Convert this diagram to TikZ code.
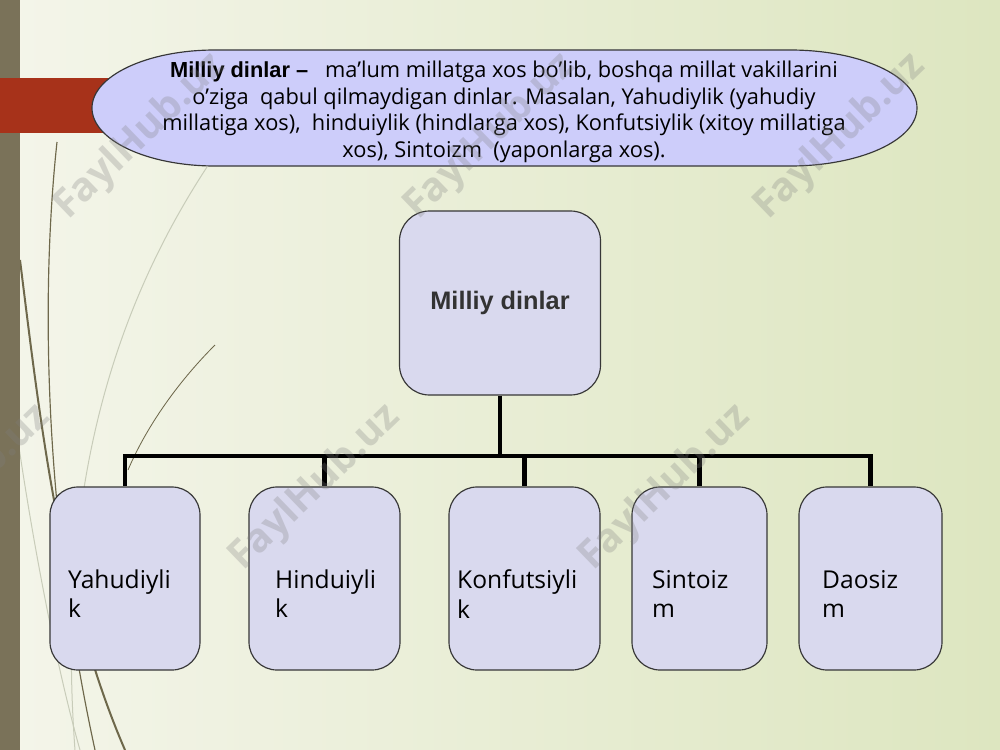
\documentclass[tikz,border=0pt]{standalone}
\usepackage{fontspec}
\setmainfont{Open Sans}
\newfontfamily\arialfont{Liberation Sans}
\definecolor{bgleft}{RGB}{244,245,234}
\definecolor{bgright}{RGB}{221,230,192}
\definecolor{stripbrown}{RGB}{122,114,89}
\definecolor{barred}{RGB}{167,50,26}
\definecolor{ovalfill}{RGB}{205,205,250}
\definecolor{boxfill}{RGB}{217,217,238}
\definecolor{rimgray}{RGB}{55,55,55}
\definecolor{stemolive}{RGB}{110,104,75}
\definecolor{stemlight}{RGB}{200,204,185}
\begin{document}
\begin{tikzpicture}[x=0.3mm, y=-0.3mm,
  oval/.style={draw=rimgray, line width=0.35mm, fill=ovalfill},
  ovaltext/.style={align=center, inner sep=0pt, font=\fontsize{18.6}{22.6}\selectfont},
  rootbox/.style={rectangle, rounded corners=9mm, draw=rimgray, line width=0.35mm, fill=boxfill,
    minimum width=60.3mm, minimum height=55.2mm, text=black!80,
    font=\arialfont\bfseries\fontsize{21.6}{24}\selectfont},
  leafbox/.style={rectangle, rounded corners=8.4mm, draw=rimgray, line width=0.35mm, fill=boxfill,
    minimum height=54.9mm},
  leaftext/.style={anchor=west, align=left, inner sep=0pt, font=\fontsize{21}{25}\selectfont},
  bus/.style={line width=1.3mm, black},
  stem/.style={stemolive, line width=0.35mm},
  wmark/.style={text=gray, opacity=0.28, rotate=44, font=\bfseries\fontsize{34}{34}\selectfont}]
  \clip (0,0) rectangle (1000,750);
  % background, side strip, curves
  \shade[left color=bgleft, right color=bgright] (0,0) rectangle (1000,750);
  \draw[stemlight, line width=0.3mm] (207,167) .. controls (120,300) and (55,480) .. (75,750);
  \draw[stemlight, line width=0.3mm] (15,420) .. controls (35,560) and (60,680) .. (80,750);
  \draw[stem] (57,142) .. controls (40,300) and (45,520) .. (95,750);
  \draw[stem, line width=0.6mm] (20,260) .. controls (40,420) and (60,600) .. (125,750);
  \draw[stem, line width=0.25mm] (215,345) .. controls (175,385) and (145,430) .. (128,470);
  \fill[stripbrown] (0,0) rectangle (20,750);
  \fill[barred] (0,78) rectangle (120,133);

  % definition bubble
  \draw[oval] (215,50) -- (790,50) arc[start angle=-90, end angle=90, x radius=127, y radius=58]
    -- (215,166) arc[start angle=90, end angle=270, x radius=123, y radius=58] -- cycle;
  \node[ovaltext] (defT) at (504,112) {{\arialfont\bfseries Milliy dinlar –}\ \ \ ma’lum millatga xos bo’lib, boshqa millat vakillarini\\
    o’ziga\ \ qabul qilmaydigan dinlar. Masalan, Yahudiylik (yahudiy\\
    millatiga xos),\ \ hinduiylik (hindlarga xos), Konfutsiylik (xitoy millatiga\\
    xos), Sintoizm\ \ (yaponlarga xos).};

  \node[rootbox] (root) at (500,303) {Milliy dinlar};
  \coordinate (fork) at (500,456);

  \node[leafbox, minimum width=45mm] (yah) at (125,578.5) {};
  \node[leafbox, minimum width=45.3mm] (hin) at (324.5,578.5) {};
  \node[leafbox, minimum width=45.3mm] (kon) at (524.5,578.5) {};
  \node[leafbox, minimum width=40.5mm] (sin) at (699.5,578.5) {};
  \node[leafbox, minimum width=42.9mm] (dao) at (870.5,578.5) {};

  \node[leaftext] (yahT) at (68,594) {Yahudiyli\\k};
  \node[leaftext] (hinT) at (275,594) {Hinduiyli\\k};
  \node[leaftext] (konT) at (457,594) {Konfutsiyli\\k};
  \node[leaftext] (sinT) at (652,594) {Sintoiz\\m};
  \node[leaftext] (daoT) at (822,594) {Daosiz\\m};

  \draw[bus] (root.south) -- (fork) -| (yah.north); \draw[bus] (fork) -| (hin.north);
  \draw[bus] (fork) -| (kon.north); \draw[bus] (fork) -| (sin.north); \draw[bus] (fork) -| (dao.north);

  % watermarks
  \node[wmark] (wm1) at (140,137) {FaylHub.uz};
  \node[wmark] (wm2) at (490,137) {FaylHub.uz};
  \node[wmark] (wm3) at (840,137) {FaylHub.uz};
  \node[wmark] (wm4) at (-35,488) {FaylHub.uz};
  \node[wmark] (wm5) at (315,488) {FaylHub.uz};
  \node[wmark] (wm6) at (665,488) {FaylHub.uz};
\end{tikzpicture}
\end{document}
